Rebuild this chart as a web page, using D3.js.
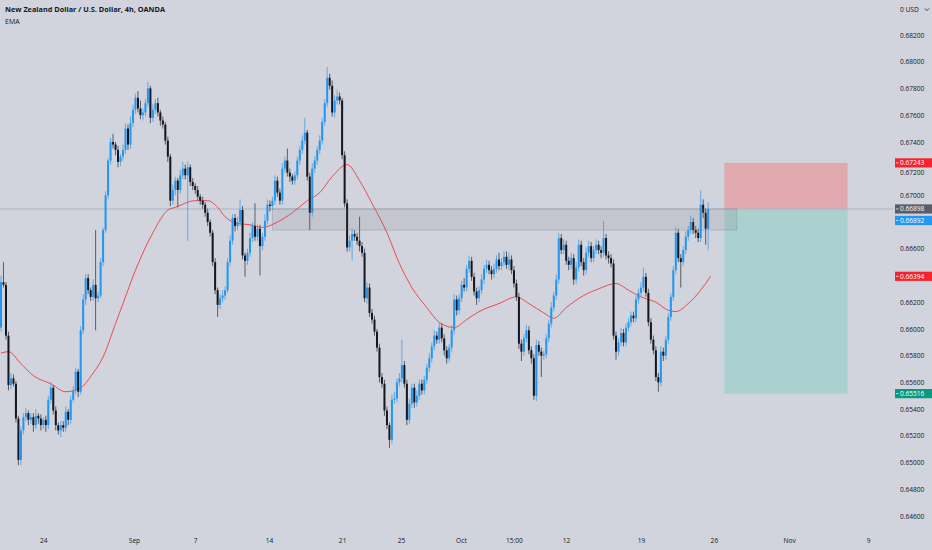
<!DOCTYPE html>
<html>
<head>
<meta charset="utf-8">
<script src="https://cdn.jsdelivr.net/npm/d3@7"></script>
<style>
html, body { margin: 0; padding: 0; background: #d1d4dc; }
svg { display: block; font-family: "Open Sans", "Noto Sans", sans-serif; }
</style>
</head>
<body>
<svg id="chart" width="932" height="550"></svg>
<script>
// NZDUSD 4h, OANDA - candles (open of each candle = previous close)
var open0 = 0.6601;
var closes = [
  0.6635,0.6633,0.6595,0.6558,0.6563,0.6559,0.6533,0.6502,0.6524,0.6534,
  0.6537,0.6532,0.6534,0.6528,0.6535,0.6533,0.6528,0.6532,0.6528,0.6547,
  0.6556,0.6539,0.6528,0.6524,0.6528,0.6526,0.6538,0.6532,0.6547,0.6554,
  0.6568,0.6553,0.6599,0.6622,0.6638,0.6629,0.6624,0.6633,0.6623,0.6625,
  0.6650,0.6674,0.6700,0.6726,0.6740,0.6738,0.6734,0.6725,0.6729,0.6734,
  0.6750,0.6738,0.6754,0.6764,0.6773,0.6765,0.6760,0.6762,0.6769,0.6780,
  0.6758,0.6764,0.6769,0.6762,0.6756,0.6753,0.6741,0.6729,0.6696,0.6704,
  0.6711,0.6704,0.6715,0.6720,0.6715,0.6721,0.6710,0.6707,0.6704,0.6699,
  0.6696,0.6693,0.6687,0.6680,0.6672,0.6650,0.6629,0.6618,0.6623,0.6625,
  0.6629,0.6650,0.6666,0.6683,0.6677,0.6680,0.6689,0.6655,0.6651,0.6657,
  0.6668,0.6677,0.6669,0.6675,0.6662,0.6669,0.6681,0.6693,0.6692,0.6696,
  0.6711,0.6702,0.6696,0.6720,0.6726,0.6717,0.6714,0.6711,0.6715,0.6726,
  0.6734,0.6741,0.6747,0.6714,0.6687,0.6720,0.6726,0.6734,0.6741,0.6755,
  0.6769,0.6788,0.6782,0.6762,0.6771,0.6774,0.6771,0.6730,0.6694,0.6661,
  0.6666,0.6671,0.6669,0.6666,0.6662,0.6657,0.6623,0.6631,0.6612,0.6607,
  0.6598,0.6586,0.6564,0.6559,0.6539,0.6528,0.6517,0.6547,0.6548,0.6560,
  0.6563,0.6573,0.6559,0.6532,0.6544,0.6556,0.6545,0.6550,0.6559,0.6554,
  0.6562,0.6571,0.6578,0.6587,0.6595,0.6592,0.6601,0.6593,0.6584,0.6578,
  0.6586,0.6599,0.6622,0.6614,0.6623,0.6633,0.6631,0.6645,0.6651,0.6639,
  0.6628,0.6623,0.6629,0.6637,0.6645,0.6648,0.6644,0.6641,0.6645,0.6652,
  0.6647,0.6650,0.6654,0.6648,0.6652,0.6644,0.6634,0.6624,0.6589,0.6583,
  0.6593,0.6599,0.6584,0.6578,0.6550,0.6588,0.6583,0.6580,0.6581,0.6593,
  0.6604,0.6616,0.6625,0.6637,0.6668,0.6659,0.6663,0.6651,0.6648,0.6653,
  0.6637,0.6646,0.6663,0.6650,0.6644,0.6657,0.6662,0.6653,0.6659,0.6663,
  0.6659,0.6657,0.6668,0.6655,0.6653,0.6649,0.6595,0.6583,0.6590,0.6597,
  0.6590,0.6601,0.6605,0.6610,0.6608,0.6622,0.6627,0.6631,0.6639,0.6627,
  0.6605,0.6592,0.6584,0.6564,0.6560,0.6583,0.6580,0.6592,0.6609,0.6624,
  0.6644,0.6672,0.6653,0.6650,0.6659,0.6669,0.6674,0.6680,0.6674,0.6672,
  0.6668,0.6693,0.6687,0.6675,0.66898
];
// wick lengths beyond the body, in pips
var wickUp = [
  5,15,2,3,4,3,2,2,3,3,  4,2,3,3,5,2,3,2,3,3,  4,2,3,2,3,3,4,2,3,3,
  3,2,3,4,3,3,2,4,41,3,  3,2,3,2,3,6,2,3,2,4,  4,3,5,4,3,5,6,3,3,5,
  2,4,3,4,2,3,2,3,2,4,  3,2,4,5,3,4,2,3,2,3,  2,3,2,3,2,2,3,2,3,4,
  3,3,4,3,3,4,8,3,2,3,  4,3,17,3,3,3,5,4,3,3,  4,3,3,4,3,9,3,2,3,3,
  3,4,11,2,3,4,3,3,4,3,  3,8,3,4,4,5,3,2,3,3,  4,4,3,3,18,3,3,4,3,3,
  3,2,3,3,3,3,2,4,5,3,  4,19,3,3,4,3,3,4,3,3,  3,3,4,3,4,3,4,3,3,3,
  3,4,4,3,3,3,5,3,4,3,  3,3,3,4,3,4,3,3,4,3,  5,3,4,4,5,3,3,3,3,3,
  3,4,3,3,3,4,3,3,3,3,  3,4,3,4,4,3,4,3,3,4,  3,4,4,3,3,4,4,3,3,4,
  3,3,13,3,3,3,3,3,3,4,  3,3,3,3,3,3,3,4,7,3,  3,3,3,3,3,4,3,3,3,3,
  3,4,3,3,3,4,3,5,3,3,  3,11,4,3,5
];
var wickDn = [
  3,2,3,4,3,2,3,4,4,3,  3,4,3,5,3,4,4,3,5,3,  3,3,4,3,5,3,3,4,3,2,
  3,4,2,3,4,3,3,3,24,3,  2,3,2,3,3,3,4,4,3,3,  3,4,3,3,3,3,3,4,3,3,
  4,3,3,3,4,3,3,4,4,3,  4,13,3,3,3,49,3,3,3,3,  3,3,3,3,3,3,3,9,3,3,
  3,2,3,3,4,3,3,3,12,3,  3,3,3,3,22,3,3,3,4,3,  3,3,3,3,3,3,4,3,3,3,
  3,3,3,3,13,3,3,3,3,3,  3,3,3,3,4,3,3,3,3,3,  3,15,3,3,4,3,3,4,3,3,
  3,3,4,3,4,3,6,3,3,3,  3,3,3,4,3,3,4,3,3,3,  3,3,3,3,3,3,3,3,4,4,
  3,3,3,4,3,3,3,3,3,3,  3,5,3,3,3,3,3,4,3,3,  3,3,3,3,4,3,3,3,4,7,
  3,3,3,4,3,4,3,16,3,3,  3,3,3,3,3,3,3,3,4,3,  4,3,3,3,4,3,3,3,3,3,
  3,4,3,3,4,3,3,6,3,3,  3,3,3,3,3,3,3,3,3,3,  3,3,3,3,7,3,4,3,3,3,
  3,3,3,19,3,3,3,3,3,4,  3,3,4,12,16
];

// EMA read at a set of candle positions
var emaIdx  = [0, 3, 8, 13, 20, 26, 32, 37, 41, 46, 49, 54, 61, 67, 70, 78, 83, 87, 90, 95,
               100, 105, 111, 117, 123, 128, 133, 139, 144, 149, 155, 160, 165, 171, 176, 182, 187, 192, 200, 207,
               212, 218, 222, 227, 234, 240, 247, 252, 257, 263, 268, 271, 276, 281, 285];
var emaVals = [0.6582, 0.6583, 0.6574, 0.6565, 0.6559, 0.6553, 0.6556, 0.6567, 0.6579, 0.6604,
               0.6619, 0.6644, 0.6672, 0.6689, 0.6691, 0.6696, 0.6696, 0.6691, 0.6684, 0.6679,
               0.6678, 0.6676, 0.6680, 0.6687, 0.6696, 0.6702, 0.6714, 0.6723, 0.6711, 0.6694,
               0.6672, 0.6649, 0.6631, 0.6616, 0.6605, 0.6601, 0.6607, 0.6613, 0.6619, 0.6624,
               0.6619, 0.6612, 0.6608, 0.6616, 0.6625, 0.6630, 0.6634, 0.6629, 0.6624, 0.6620,
               0.6614, 0.6613, 0.6619, 0.6629, 0.66394];

// 0.668 sits under the price tags, as in the original
var priceTicks = [0.646, 0.648, 0.650, 0.652, 0.654, 0.656, 0.658, 0.660, 0.662, 0.664,
                  0.666, 0.670, 0.672, 0.674, 0.676, 0.678, 0.680, 0.682];
var dateLabels = ["24", "Sep", "7", "14", "21", "25", "Oct", "15:00", "12", "19", "26", "Nov", "9"];
var dateIdx    = [17, 53.4, 78, 107.6, 137, 160.6, 184.7, 206, 226.9, 257, 286.3, 316.5, 348.2];

var lastPrice = 0.66898, bidPrice = 0.66892, emaLast = 0.66394;
var stopPrice = 0.67243, targetPrice = 0.65516;
var zoneIdx = [109, 295.5], zoneLow = 0.6674;
var posIdx = [290.5, 340];

var W = 932, H = 550, plotRight = 893;
var svg = d3.select("#chart");

var x = d3.scaleLinear().domain([0, 340]).range([1, 1 + 2.49 * 340]);
var y = d3.scaleLinear().domain([0.646, 0.682]).range([516, 35]);

svg.append("rect").attr("width", W).attr("height", H).attr("fill", "#d1d4dc");

var candles = closes.map(function(c, i) {
    var o = i ? closes[i - 1] : open0;
    return {i: i, o: o, c: c,
            h: Math.max(o, c) + wickUp[i] / 10000,
            l: Math.min(o, c) - wickDn[i] / 10000};
});

// long position tool (stop above, target below)
svg.append("rect")
    .attr("x", x(posIdx[0])).attr("width", x(posIdx[1]) - x(posIdx[0]))
    .attr("y", y(stopPrice)).attr("height", y(lastPrice) - y(stopPrice))
    .attr("fill", "#dfa9ad");
svg.append("rect")
    .attr("x", x(posIdx[0])).attr("width", x(posIdx[1]) - x(posIdx[0]))
    .attr("y", y(lastPrice)).attr("height", y(targetPrice) - y(lastPrice))
    .attr("fill", "#abd0d0");

// last price line
svg.append("line")
    .attr("x1", 0).attr("x2", plotRight)
    .attr("y1", y(lastPrice)).attr("y2", y(lastPrice))
    .style("stroke", "#a2aec0").style("stroke-width", 0.8);

// EMA
var emaLine = d3.line()
    .x(function(d, i) { return x(emaIdx[i]); })
    .y(function(d) { return y(d); })
    .curve(d3.curveMonotoneX);
svg.append("path").datum(emaVals)
    .attr("d", emaLine)
    .style("fill", "none").style("stroke", "#ec3b3b").style("stroke-width", 0.9);

// candles
var gC = svg.append("g");
gC.selectAll(".wick").data(candles).enter().append("line")
    .attr("x1", function(d) { return x(d.i); })
    .attr("x2", function(d) { return x(d.i); })
    .attr("y1", function(d) { return y(d.h); })
    .attr("y2", function(d) { return y(d.l); })
    .style("stroke", function(d) { return d.c >= d.o ? "#4a9de0" : "#3a3d46"; })
    .style("stroke-width", 0.8);
gC.selectAll(".body").data(candles).enter().append("rect")
    .attr("x", function(d) { return x(d.i) - 1; })
    .attr("width", 2)
    .attr("y", function(d) { return y(Math.max(d.o, d.c)); })
    .attr("height", function(d) { return Math.max(0.8, Math.abs(y(d.o) - y(d.c))); })
    .style("fill", function(d) { return d.c >= d.o ? "#2196f3" : "#131722"; });

// grey supply zone
svg.append("rect")
    .attr("x", x(zoneIdx[0])).attr("width", x(zoneIdx[1]) - x(zoneIdx[0]))
    .attr("y", y(lastPrice)).attr("height", y(zoneLow) - y(lastPrice))
    .attr("fill", "rgba(110,114,128,0.14)")
    .attr("stroke", "rgba(110,114,128,0.3)").attr("stroke-width", 0.8);

// price axis
var yAxis = d3.axisRight(y).tickValues(priceTicks).tickSize(0).tickPadding(0)
    .tickFormat(d3.format(".5f"));
var gy = svg.append("g").attr("transform", "translate(900,0)").call(yAxis);
gy.select(".domain").remove();
gy.selectAll("text").style("font-size", "6.6px").style("fill", "#131722")
    .style("font-family", "'Open Sans', sans-serif");
// the stop tag hides the top of 0.67200; nudge it just below the tag
gy.selectAll(".tick").filter(function(d) { return d === 0.672; })
    .select("text").attr("dy", "0.95em");

svg.append("text").attr("x", 900).attr("y", 12)
    .style("font-size", "6.6px").style("fill", "#131722").text("0  USD");
svg.append("path").attr("d", "M925,8.5 l2,2 l2,-2")
    .style("fill", "none").style("stroke", "#131722").style("stroke-width", 0.8);

// date axis
var xAxis = d3.axisBottom(x).tickValues(dateIdx).tickSize(0).tickPadding(0)
    .tickFormat(function(d, i) { return dateLabels[i]; });
var gx = svg.append("g").attr("transform", "translate(0,538)").call(xAxis);
gx.select(".domain").remove();
gx.selectAll("text").style("font-size", "6.6px").style("fill", "#131722")
    .style("font-family", "'Open Sans', sans-serif");

// price labels on axis
var tags = [
    {p: stopPrice, bg: "#f5232b"},
    {p: lastPrice, bg: "#5a5d66"},
    {p: bidPrice, bg: "#2196f3"},
    {p: emaLast, bg: "#f5232b"},
    {p: targetPrice, bg: "#089981"}
];
tags.forEach(function(t, k) {
    var ty = y(t.p);
    if (k == 2) ty = y(lastPrice) + 11.5;
    svg.append("rect").attr("x", 895).attr("y", ty - 4.6).attr("width", 37).attr("height", 9.2)
        .attr("fill", t.bg);
    svg.append("line").attr("x1", 896).attr("x2", 898.5).attr("y1", ty).attr("y2", ty)
        .style("stroke", "#fff").style("stroke-width", 0.7);
    svg.append("text").attr("x", 900).attr("y", ty + 2.3)
        .style("font-size", "6.6px").style("fill", "#fff").text(d3.format(".5f")(t.p));
});

// header
svg.append("text").attr("x", 5).attr("y", 12)
    .style("font-size", "7.3px").style("font-weight", "bold").style("fill", "#131722")
    .text("New Zealand Dollar / U.S. Dollar, 4h, OANDA");
svg.append("text").attr("x", 5).attr("y", 24)
    .style("font-size", "7px").style("fill", "#131722").text("EMA");
</script>
</body>
</html>
